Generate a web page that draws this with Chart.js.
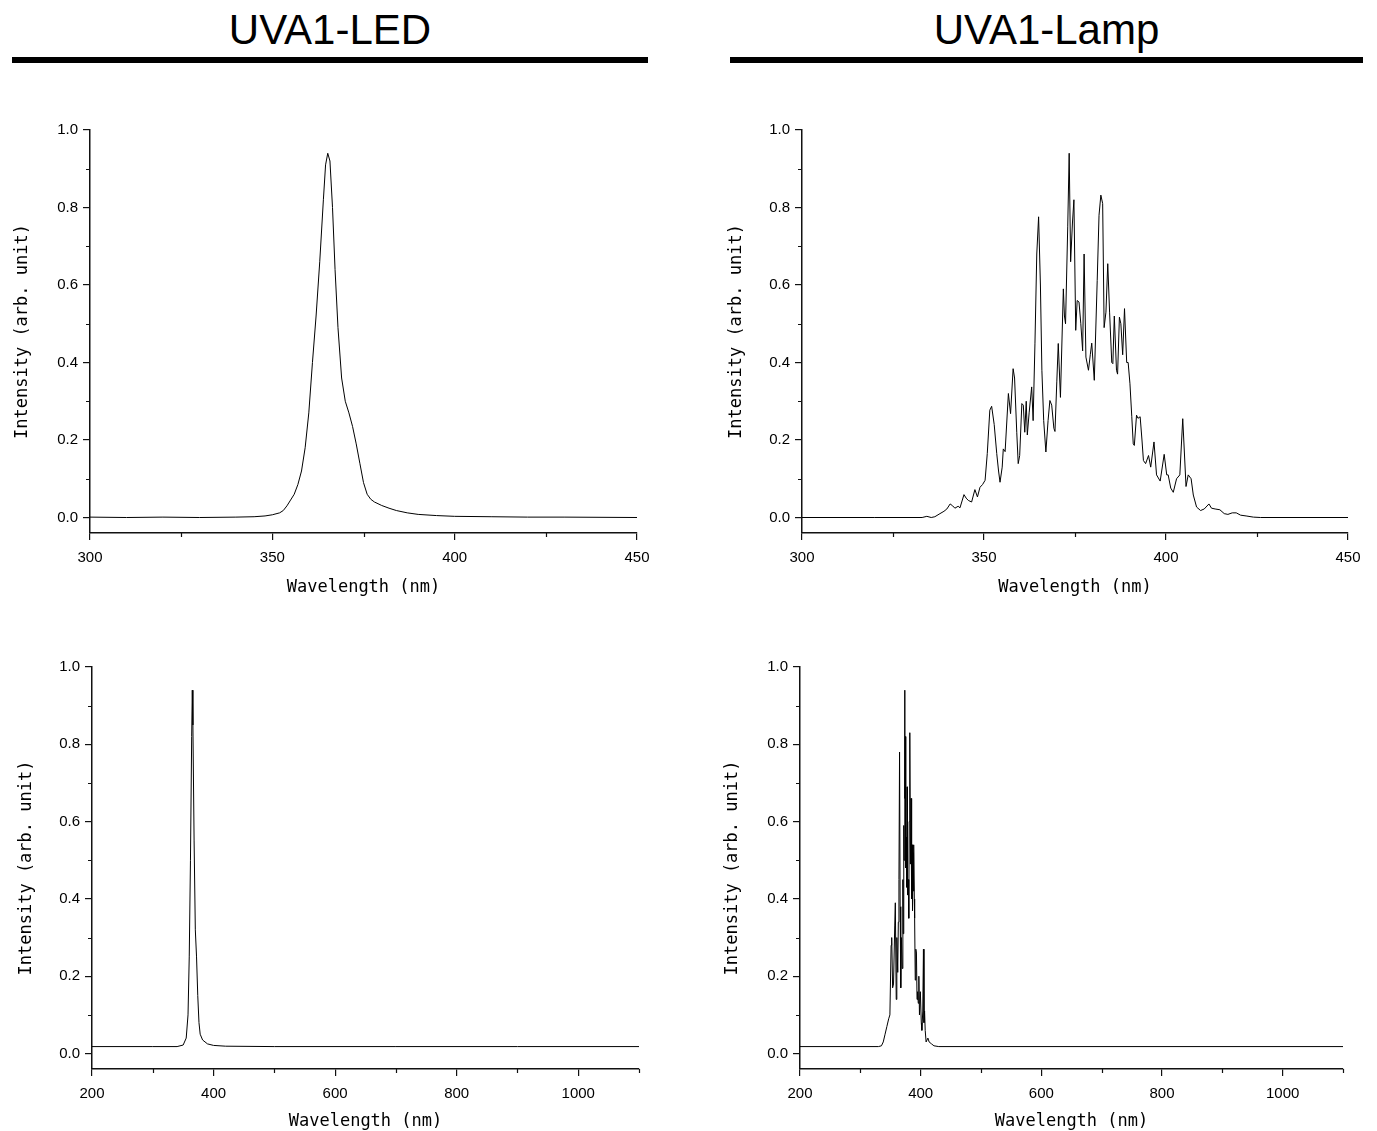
<!DOCTYPE html>
<html>
<head>
<meta charset="utf-8">
<script src="https://cdn.jsdelivr.net/npm/chart.js@4.4.1/dist/chart.umd.min.js"></script>
<style>
  body { margin: 0; background: #fff; width: 1377px; height: 1131px; overflow: hidden; position: relative;
         font-family: "Liberation Sans", Arial, sans-serif; }
  .head { position: absolute; top: 9px; font-size: 42px; line-height: 42px; text-align: center; color: #000; }
  .rule { position: absolute; top: 57px; height: 6px; background: #000; }
  .panel { position: absolute; }
</style>
</head>
<body>
<div class="head" style="left:12px;width:636px">UVA1-LED</div>
<div class="rule" style="left:12px;width:636px"></div>
<div class="head" style="left:730px;width:633px">UVA1-Lamp</div>
<div class="rule" style="left:730px;width:633px"></div>

<div class="panel" style="left:0;top:110px"><canvas id="ledZoom" width="660" height="488"></canvas></div>
<div class="panel" style="left:712px;top:110px"><canvas id="lampZoom" width="660" height="488"></canvas></div>
<div class="panel" style="left:0;top:647px"><canvas id="ledWide" width="660" height="485"></canvas></div>
<div class="panel" style="left:712px;top:647px"><canvas id="lampWide" width="660" height="485"></canvas></div>

<script>
// ---- data ----

// UVA1-LED, 300-450 nm
const ledNm = [300, 310, 320, 330, 340, 345, 348, 350, 352, 353, 354, 355, 356, 357, 358, 359, 360, 361, 362, 363,
  364, 364.6, 365.2, 365.8, 366.5, 367.2, 368, 369, 370, 371, 372, 373, 374, 375, 376, 377, 378, 380, 382, 384,
  387, 390, 395, 400, 410, 420, 430, 450];
const ledVal = [0.001, 0.0, 0.001, 0.0, 0.001, 0.002, 0.004, 0.007, 0.012, 0.018, 0.03, 0.045, 0.06, 0.085, 0.12, 0.18, 0.27, 0.40, 0.52, 0.66,
  0.82, 0.91, 0.94, 0.92, 0.80, 0.64, 0.49, 0.36, 0.30, 0.27, 0.235, 0.19, 0.14, 0.09, 0.06, 0.047, 0.04, 0.031, 0.024, 0.018,
  0.012, 0.008, 0.005, 0.003, 0.002, 0.001, 0.001, 0.0];

// UVA1-Lamp, 300-450 nm
const lampNm = [300, 320, 333, 334.3, 335.5, 336.5, 337.9, 339.0, 339.8, 340.7, 341.4, 342.0, 342.9, 343.4, 344.5, 345.1,
  345.7, 346.6, 347.5, 348.2, 348.9, 349.6, 350.3, 350.9, 351.6, 352.1, 352.8, 353.5, 354.0, 354.4, 355.0, 355.3, 355.8,
  356.7, 357.3, 358.0, 358.4, 359.0, 359.4, 359.8, 360.4, 360.8, 361.2, 361.6, 361.9, 362.4, 363.1, 363.5, 364.0, 364.5,
  365.0, 365.5, 365.9, 366.4, 367.0, 367.6, 368.1, 368.6, 369.2, 369.5, 370.0, 370.4, 371.0, 371.8, 372.1, 372.4, 373.0,
  373.4, 373.8, 374.3, 374.7, 375.2, 375.6, 376.1, 376.6, 377.1, 377.5, 378.0, 378.7, 379.2, 379.6, 380.3, 381.1, 381.6,
  382.1, 382.6, 383.0, 383.5, 384.0, 384.5, 385.1, 385.4, 385.8, 386.4, 386.7, 387.2, 387.6, 388.1, 388.6, 389.2, 389.6,
  390.1, 390.6, 391.0, 391.3, 391.9, 392.3, 392.9, 393.4, 393.8, 394.4, 395.2, 395.8, 396.7, 397.4, 398.4, 399.5, 400.2,
  400.6, 401.3, 402.0, 402.9, 403.8, 404.6, 405.5, 406.1, 406.9, 407.5, 408.4, 409.5, 410.5, 411.8, 412.5, 413.5, 414.8,
  416.0, 417.0, 418.2, 419.3, 420.5, 422.0, 424.0, 426, 450];
const lampVal = [0, 0, 0, 0.003, 0.0, 0.002, 0.01, 0.016, 0.022, 0.035, 0.03, 0.024, 0.029, 0.025, 0.059, 0.05,
  0.044, 0.04, 0.072, 0.053, 0.078, 0.085, 0.096, 0.165, 0.277, 0.287, 0.24, 0.165, 0.12, 0.091, 0.13, 0.177, 0.17,
  0.32, 0.268, 0.384, 0.36, 0.22, 0.139, 0.16, 0.294, 0.29, 0.22, 0.30, 0.213, 0.27, 0.337, 0.25, 0.45, 0.68,
  0.776, 0.6, 0.38, 0.25, 0.169, 0.25, 0.302, 0.29, 0.23, 0.222, 0.35, 0.449, 0.31, 0.59, 0.52, 0.50, 0.75,
  0.94, 0.66, 0.76, 0.82, 0.483, 0.56, 0.556, 0.5, 0.43, 0.68, 0.414, 0.38, 0.42, 0.45, 0.354, 0.612, 0.78,
  0.832, 0.81, 0.49, 0.53, 0.655, 0.53, 0.40, 0.397, 0.52, 0.38, 0.37, 0.517, 0.50, 0.42, 0.539, 0.40, 0.40,
  0.345, 0.26, 0.19, 0.186, 0.264, 0.256, 0.26, 0.2, 0.147, 0.139, 0.16, 0.13, 0.195, 0.11, 0.094, 0.163, 0.11,
  0.11, 0.076, 0.065, 0.10, 0.11, 0.255, 0.08, 0.11, 0.10, 0.058, 0.027, 0.018, 0.022, 0.035, 0.024, 0.022, 0.02,
  0.01, 0.008, 0.012, 0.012, 0.006, 0.004, 0.001, 0, 0];

// UVA1-LED, 200-1100 nm (raised baseline)
const ledWideNm = [200, 300, 340, 350, 355, 358, 360, 362, 364, 365, 366, 368, 370, 372, 374, 376, 378, 382, 390, 400, 420, 500, 700, 900, 1100];
const ledWideVal = [0.018, 0.018, 0.018, 0.022, 0.04, 0.1, 0.25, 0.5, 0.82, 0.94, 0.85, 0.55, 0.32, 0.25, 0.15, 0.08, 0.05, 0.035, 0.025, 0.021, 0.019, 0.018, 0.018, 0.018, 0.018];

// UVA1-Lamp, 200-1100 nm (raised baseline)
const lampWideNm = [200, 330, 335, 338, 341, 344, 347, 349, 351, 352, 353.5, 355, 357, 358, 359.5, 360.5, 362, 363, 364,
  365, 366, 367, 368, 369.5, 370.5, 371, 372, 372.5, 373.4, 374, 374.7, 375.3, 376, 377, 377.5, 378.2, 379.5, 380.3,
  381, 382, 383, 384, 385, 385.8, 386.5, 387.5, 388.2, 388.7, 389.5, 390, 391, 392, 393, 394, 395, 396, 397, 398,
  399.5, 401, 402, 403.5, 404.6, 405.5, 406.5, 407.5, 409, 412, 414, 418, 422, 430, 1100];
const lampWideVal = [0.018, 0.018, 0.02, 0.03, 0.05, 0.07, 0.09, 0.1, 0.28, 0.3, 0.17, 0.18, 0.33, 0.39, 0.14, 0.3, 0.21, 0.34, 0.45,
  0.78, 0.38, 0.17, 0.3, 0.22, 0.45, 0.31, 0.59, 0.5, 0.94, 0.66, 0.82, 0.48, 0.56, 0.43, 0.69, 0.41, 0.45, 0.35,
  0.6, 0.83, 0.49, 0.66, 0.4, 0.54, 0.37, 0.52, 0.42, 0.54, 0.4, 0.35, 0.19, 0.27, 0.26, 0.14, 0.16, 0.13, 0.2, 0.1,
  0.16, 0.08, 0.06, 0.11, 0.27, 0.08, 0.11, 0.06, 0.03, 0.04, 0.03, 0.025, 0.02, 0.018, 0.018];

// axis ticks
const yMajor = [0.0, 0.2, 0.4, 0.6, 0.8, 1.0];
const yMinor = [0.1, 0.3, 0.5, 0.7, 0.9];
const xZoomMajor = [300, 350, 400, 450];
const xZoomMinor = [325, 375, 425];
const xWideMajor = [200, 400, 600, 800, 1000];
const xWideMinor = [300, 500, 700, 900, 1100];

const AXIS = '#111';
const numFont = { family: '"Liberation Sans", Arial, sans-serif', size: 15 };
const titleFont = { family: '"DejaVu Sans Mono", monospace', size: 17 };

// short outward minor ticks (Chart.js has none of its own)
const minorTicks = {
  id: 'minorTicks',
  afterDraw(chart, args, opts) {
    const { ctx, scales: { x, y } } = chart;
    ctx.save();
    ctx.strokeStyle = AXIS;
    ctx.lineWidth = 1.2;
    ctx.beginPath();
    opts.x.forEach(v => {
      const px = Math.round(x.getPixelForValue(v)) + 0.5;
      ctx.moveTo(px, x.top);
      ctx.lineTo(px, x.top + 4);
    });
    opts.y.forEach(v => {
      const py = Math.round(y.getPixelForValue(v)) + 0.5;
      ctx.moveTo(y.right, py);
      ctx.lineTo(y.right - 4, py);
    });
    ctx.stroke();
    ctx.restore();
  }
};

function makePanel(id, nm, vals, p) {
  const points = nm.map((w, i) => ({ x: w, y: vals[i] }));
  new Chart(document.getElementById(id), {
    type: 'scatter',
    data: {
      datasets: [{
        data: points,
        showLine: true,
        borderColor: '#000',
        borderWidth: 1,
        pointRadius: 0,
        tension: 0
      }]
    },
    options: {
      responsive: false,
      animation: false,
      layout: { padding: { top: 20, right: p.padRight, left: 0, bottom: 0 } },
      plugins: {
        legend: { display: false },
        tooltip: { enabled: false },
        minorTicks: { x: p.xMinor, y: yMinor }
      },
      scales: {
        x: {
          type: 'linear',
          min: p.xMin,
          max: p.xMax,
          afterBuildTicks: s => { s.ticks = p.xMajor.map(v => ({ value: v })); },
          afterFit: s => { s.height = p.xHeight; },
          ticks: { font: numFont, color: '#000', padding: 9, maxRotation: 0, autoSkip: false,
                   callback: v => String(v) },
          grid: { drawOnChartArea: false, tickLength: 7, color: AXIS, lineWidth: 1.2 },
          border: { color: AXIS, width: 1.5 },
          title: { display: true, text: 'Wavelength (nm)', font: titleFont, color: '#000', padding: 0 }
        },
        y: {
          min: -0.04,
          max: 1.0,
          afterBuildTicks: s => { s.ticks = yMajor.map(v => ({ value: v })); },
          afterFit: s => { s.width = p.yWidth; },
          ticks: { font: numFont, color: '#000', padding: 5, callback: v => v.toFixed(1) },
          grid: { drawOnChartArea: false, tickLength: 7, color: AXIS, lineWidth: 1.2 },
          border: { color: AXIS, width: 1.5 },
          title: { display: true, text: 'Intensity (arb. unit)', font: titleFont, color: '#000',
                   padding: { top: p.yTitlePad, bottom: 0 } }
        }
      }
    },
    plugins: [minorTicks]
  });
}

makePanel('ledZoom', ledNm, ledVal, { xMin: 300, xMax: 450, xMajor: xZoomMajor, xMinor: xZoomMinor,
  yWidth: 90, xHeight: 65, padRight: 23, yTitlePad: 12 });
makePanel('lampZoom', lampNm, lampVal, { xMin: 300, xMax: 450, xMajor: xZoomMajor, xMinor: xZoomMinor,
  yWidth: 90, xHeight: 65, padRight: 24, yTitlePad: 14 });
makePanel('ledWide', ledWideNm, ledWideVal, { xMin: 200, xMax: 1100, xMajor: xWideMajor, xMinor: xWideMinor,
  yWidth: 92, xHeight: 63, padRight: 21, yTitlePad: 16 });
makePanel('lampWide', lampWideNm, lampWideVal, { xMin: 200, xMax: 1100, xMajor: xWideMajor, xMinor: xWideMinor,
  yWidth: 88, xHeight: 63, padRight: 29, yTitlePad: 10 });
</script>
</body>
</html>
